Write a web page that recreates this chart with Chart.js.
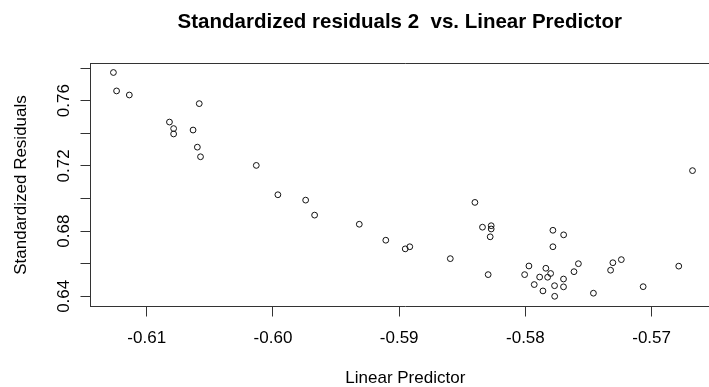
<!DOCTYPE html>
<html>
<head>
<meta charset="utf-8">
<title>Standardized residuals 2 vs. Linear Predictor</title>
<script src="https://cdn.jsdelivr.net/npm/chart.js@4/dist/chart.umd.min.js"></script>
<style>
  html, body { margin: 0; padding: 0; background: #fff; overflow: hidden; }
  canvas { display: block; }
</style>
</head>
<body>
<canvas id="myChart" width="724" height="387"></canvas>
<script>
// linear predictor (x) and standardized residual (y) for each observation
const linearPredictor = [
    -0.61264, -0.61239, -0.61138, -0.60584, -0.60820, -0.60787, -0.60787, -0.60633,
    -0.60599, -0.60574, -0.60132, -0.59961, -0.59741, -0.59670, -0.59316, -0.59106,
    -0.58952, -0.58916, -0.58595, -0.58400, -0.58340, -0.58271, -0.58271, -0.58279,
    -0.58295, -0.57782, -0.57697, -0.57782, -0.58006, -0.57972, -0.57930, -0.57887,
    -0.57838, -0.57824, -0.57800, -0.57861, -0.57769, -0.57768, -0.57698, -0.57698,
    -0.57615, -0.57580, -0.57461, -0.57325, -0.57307, -0.57240, -0.57067, -0.56785,
    -0.56676
];
const stdResiduals = [
    0.7773, 0.7660, 0.7635, 0.7582, 0.7469, 0.7429, 0.7396, 0.7420,
    0.7315, 0.7256, 0.7203, 0.7023, 0.6990, 0.6898, 0.6842, 0.6744,
    0.6691, 0.6704, 0.6631, 0.6976, 0.6824, 0.6833, 0.6813, 0.6765,
    0.6533, 0.6805, 0.6777, 0.6704, 0.6533, 0.6586, 0.6472, 0.6518,
    0.6572, 0.6517, 0.6540, 0.6433, 0.6465, 0.6400, 0.6506, 0.6458,
    0.6551, 0.6600, 0.6419, 0.6560, 0.6606, 0.6625, 0.6459, 0.6585,
    0.7171
];

const xTicks = [-0.61, -0.60, -0.59, -0.58, -0.57];
const xTickLabels = ['-0.61', '-0.60', '-0.59', '-0.58', '-0.57'];
const yTicks = [0.64, 0.66, 0.68, 0.70, 0.72, 0.74, 0.76, 0.78];
const yTickLabels = ['0.64', '', '0.68', '', '0.72', '', '0.76', ''];

const mainTitle = 'Standardized residuals 2  vs. Linear Predictor';
const xTitle = 'Linear Predictor';
const yTitle = 'Standardized Residuals';

const FONT = '"Liberation Sans", Arial, sans-serif';
Chart.defaults.font.family = FONT;
Chart.defaults.color = '#000';

// top/right edges of the plot box and the bold main title
const boxAndTitle = {
    id: 'boxAndTitle',
    afterDraw(chart) {
        const { ctx, chartArea: a } = chart;
        ctx.save();
        ctx.strokeStyle = '#333';
        ctx.lineWidth = 1;
        ctx.beginPath();
        ctx.moveTo(a.left, a.top);
        ctx.lineTo(a.right, a.top);
        ctx.lineTo(a.right, a.bottom);
        ctx.stroke();

        // centre over the part of the box that is on screen
        const visibleRight = Math.min(a.right, window.innerWidth);
        ctx.fillStyle = '#000';
        ctx.font = 'bold 20.5px ' + FONT;
        ctx.textAlign = 'center';
        ctx.textBaseline = 'alphabetic';
        ctx.fillText(mainTitle, (a.left + visibleRight) / 2, 28);
        ctx.restore();
    }
};

const points = linearPredictor.map((x, i) => ({ x: x, y: stdResiduals[i] }));

new Chart(document.getElementById('myChart').getContext('2d'), {
    type: 'scatter',
    data: {
        datasets: [{
            data: points,
            pointStyle: 'circle',
            pointRadius: 2.9,
            pointHoverRadius: 2.9,
            borderWidth: 1,
            borderColor: '#111',
            backgroundColor: 'rgba(0,0,0,0)'
        }]
    },
    options: {
        responsive: false,
        animation: false,
        events: [],
        layout: { padding: { top: 63.5, right: 1, left: 0, bottom: 0 } },
        plugins: {
            legend: { display: false },
            tooltip: { enabled: false },
            title: { display: false }
        },
        scales: {
            x: {
                type: 'linear',
                min: -0.614456,
                max: -0.564574,
                afterBuildTicks: (scale) => { scale.ticks = xTicks.map(v => ({ value: v })); },
                afterFit: (scale) => { scale.height = 80.5; },
                grid: { drawOnChartArea: false, drawTicks: true, tickLength: 10, color: '#333', lineWidth: 1 },
                border: { display: true, color: '#333', width: 1 },
                ticks: {
                    autoSkip: false,
                    maxRotation: 0,
                    minRotation: 0,
                    padding: 12,
                    font: { size: 17 },
                    callback: (value, index) => xTickLabels[index]
                },
                title: {
                    display: true,
                    text: xTitle,
                    font: { size: 17, lineHeight: 1 },
                    padding: { top: 0, bottom: 0.5 }
                }
            },
            y: {
                type: 'linear',
                min: 0.633742,
                max: 0.782822,
                afterBuildTicks: (scale) => { scale.ticks = yTicks.map(v => ({ value: v })); },
                afterFit: (scale) => { scale.width = 90.5; },
                grid: { drawOnChartArea: false, drawTicks: true, tickLength: 10, color: '#333', lineWidth: 1 },
                border: { display: true, color: '#333', width: 1 },
                ticks: {
                    autoSkip: false,
                    minRotation: 90,
                    maxRotation: 90,
                    crossAlign: 'center',
                    padding: 0,
                    font: { size: 17 },
                    callback: (value, index) => yTickLabels[index]
                },
                title: {
                    display: true,
                    text: yTitle,
                    font: { size: 17, lineHeight: 1.2 },
                    padding: { top: 10.8, bottom: 0 }
                }
            }
        }
    },
    plugins: [boxAndTitle]
});
</script>
</body>
</html>
